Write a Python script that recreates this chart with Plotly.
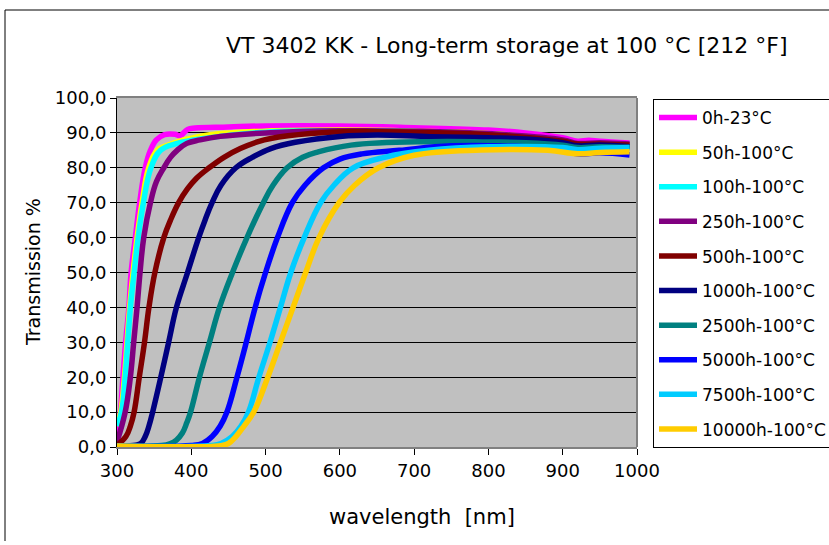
import plotly.graph_objects as go

# ---- data ----
names = ["0h-23°C", "50h-100°C", "100h-100°C", "250h-100°C", "500h-100°C",
         "1000h-100°C", "2500h-100°C", "5000h-100°C", "7500h-100°C", "10000h-100°C"]
colors = ["#FF00FF", "#FFFF00", "#00FFFF", "#800080", "#800000",
          "#000080", "#008080", "#0000FF", "#00CCFF", "#FFCC00"]

wl_0h = [300, 304.5, 308, 311.6, 316, 319, 324.7, 330.5, 338, 345, 353, 364, 378, 385, 395, 405, 450, 500, 600, 700, 800, 850, 900, 920, 935, 950, 990]
t_0h = [3, 10, 20, 30, 40, 50, 60, 70, 80, 85, 88, 89.5, 89.6, 89.2, 91.0, 91.4, 91.7, 92.0, 92.0, 91.5, 90.8, 90.0, 88.6, 87.6, 87.9, 87.6, 87.1]

wl_50h = [300, 305, 310, 313.5, 317, 321.6, 327, 333.7, 342.7, 354, 370, 390, 425, 500, 600, 700, 800, 900, 920, 950, 990]
t_50h = [6, 10, 20, 30, 40, 50, 60, 70, 80, 85, 86.6, 88, 89.5, 90.5, 90.8, 90.5, 89.8, 87.8, 86.5, 86.5, 86.2]

wl_100h = [300, 306, 311, 314.5, 318, 323, 328.5, 335.5, 345.7, 358.5, 381, 420, 500, 600, 700, 800, 900, 920, 950, 990]
t_100h = [6, 10, 20, 30, 40, 50, 60, 70, 80, 85, 87, 88.5, 90.2, 90.6, 90.4, 89.6, 87.6, 86.5, 86.6, 86.3]

wl_250h = [300, 311, 318, 322.5, 327, 331, 336, 345, 353, 363, 372, 381, 394, 412, 439, 500, 600, 700, 800, 900, 920, 950, 990]
t_250h = [1.5, 10, 20, 30, 40, 50, 60, 70, 76, 80, 83, 85, 87, 88, 89, 90, 90.6, 90.5, 89.8, 88, 87, 87.2, 86.8]

wl_500h = [300, 312, 318, 323, 330, 337, 343, 351, 363, 372, 383, 395, 407, 424, 444, 466, 490, 507, 560, 615, 700, 800, 900, 920, 950, 990]
t_500h = [0.5, 3, 6, 10, 20, 30, 40, 50, 60, 65, 70, 74, 77, 80, 83, 85.5, 87.5, 88.4, 89.8, 90.4, 90.2, 89.5, 87.6, 86.8, 86.8, 86.5]

wl_1000h = [300, 325, 332, 338, 343, 348, 359, 369.5, 380, 395, 410, 418.5, 428, 440, 460, 482, 507, 540, 600, 650, 722, 800, 856, 900, 920, 950, 990]
t_1000h = [0.3, 0.5, 1, 3, 6, 10, 20, 30, 40, 50, 60, 65, 70, 75, 80, 83, 85.5, 87.3, 89, 89.4, 88.9, 88.6, 88.2, 87.2, 86.3, 86.5, 86.0]

wl_2500h = [300, 360, 372, 380, 388, 394, 399, 411, 424.5, 438, 455.5, 475, 497, 510, 529, 550, 570, 615, 722, 800, 850, 900, 920, 950, 990]
t_2500h = [0.3, 0.4, 1, 2, 4, 7, 10, 20, 30, 40, 50, 60, 70, 75, 80, 83, 84.5, 86.5, 87.5, 87.4, 87.2, 86.5, 85.8, 86.0, 85.8]

wl_5000h = [300, 400, 415, 428, 439, 448, 461.5, 474, 486, 500, 516, 536, 553, 578, 600, 630, 680, 750, 850, 900, 920, 950, 990]
t_5000h = [0.3, 0.4, 1, 3, 6, 10, 20, 30, 40, 50, 60, 70, 75, 80, 82.5, 84, 85, 86.3, 86, 85, 84, 84.3, 83.7]

wl_7500h = [300, 426, 440, 455, 467, 477, 491, 506, 520, 534, 552, 574, 592, 618, 660, 720, 800, 900, 920, 950, 990]
t_7500h = [0.3, 0.4, 1, 3, 6, 10, 20, 30, 40, 50, 60, 70, 75, 80, 83, 85, 86, 85.8, 85.2, 85.6, 85.8]

wl_10000h = [300, 440, 450, 460, 471, 484, 503, 520, 537, 554, 572, 599, 620, 652, 700, 790, 880, 920, 950, 990]
t_10000h = [0.3, 0.4, 1, 3, 6, 10, 20, 30, 40, 50, 60, 70, 75, 80, 83.6, 85.1, 85, 84, 84.4, 84.6]

series_wl = [wl_0h, wl_50h, wl_100h, wl_250h, wl_500h, wl_1000h, wl_2500h, wl_5000h, wl_7500h, wl_10000h]
series_t = [t_0h, t_50h, t_100h, t_250h, t_500h, t_1000h, t_2500h, t_5000h, t_7500h, t_10000h]

title_text = "VT 3402 KK - Long-term storage at 100 °C [212 °F]"
x_title = "wavelength  [nm]"
y_title = "Transmission %"

FONT = "DejaVu Sans, Verdana, sans-serif"
W, H = 829, 545
L, R, T, B = 117, 637, 98, 447

fig = go.Figure()
for i, (n, c, xs, ys) in enumerate(zip(names, colors, series_wl, series_t)):
    fig.add_trace(go.Scatter(
        x=xs, y=ys, name=n, mode="lines",
        line=dict(color=c, width=5.5, shape="spline", smoothing=1.15),
        legendgroup=f"g{i}",
    ))


def px2paper(px, py):
    return (px - L) / (R - L), (B - py) / (B - T)


ann_specs = [
    (title_text, 506, 45, 22, 0),
    (x_title, 422, 517, 21, 0),
    (y_title, 33, 272, 19, -90),
]
annotations = []
for text, px, py, size, ang in ann_specs:
    ax, ay = px2paper(px, py)
    annotations.append(dict(text=text, x=ax, y=ay, xref="paper", yref="paper",
                            xanchor="center", yanchor="middle", showarrow=False,
                            textangle=ang, font=dict(family=FONT, size=size, color="black")))

lx, ly = px2paper(653, 99)
fig.update_layout(
    width=W, height=H,
    margin=dict(l=L, r=W - R, t=T, b=H - B, pad=0, autoexpand=False),
    paper_bgcolor="white",
    plot_bgcolor="#C0C0C0",
    separators=",.",
    font=dict(family=FONT, size=17, color="black"),
    showlegend=True,
    legend=dict(
        x=lx, xanchor="left", y=ly, yanchor="top",
        bordercolor="black", borderwidth=1, bgcolor="white",
        font=dict(family=FONT, size=17, color="black"),
        tracegroupgap=9.5, itemwidth=38, maxheight=430,
    ),
    annotations=annotations,
)

fig.update_xaxes(
    range=[300, 1000], dtick=100, tick0=300, tickformat="d",
    showgrid=False, zeroline=False,
    showline=True, mirror=True, linecolor="#808080", linewidth=2,
    ticks="outside", ticklen=6, tickcolor="black", tickwidth=1,
    tickfont=dict(family=FONT, size=18, color="black"),
)
fig.update_yaxes(
    range=[0, 100], dtick=10, tick0=0, tickformat=".1f",
    showgrid=True, gridcolor="black", gridwidth=1, zeroline=False,
    showline=True, mirror=False, linecolor="black", linewidth=1,
    ticks="outside", ticklen=6, tickcolor="black", tickwidth=1,
    tickfont=dict(family=FONT, size=18, color="black"),
)

# right border of plot area and outer chart frame
fig.add_shape(type="line", xref="x domain", yref="y domain", x0=1, x1=1, y0=0, y1=1,
              line=dict(color="#808080", width=2))
fx0, fy_top = px2paper(5, 10)
fx1, fy_bot = px2paper(835, 541)
fig.add_shape(type="line", xref="paper", yref="paper", x0=fx0, x1=fx1,
              y0=fy_top, y1=fy_top, line=dict(color="black", width=1))
fig.add_shape(type="line", xref="paper", yref="paper", x0=fx0, x1=fx0,
              y0=fy_bot, y1=fy_top, line=dict(color="black", width=1))

fig.write_html("out.html")
